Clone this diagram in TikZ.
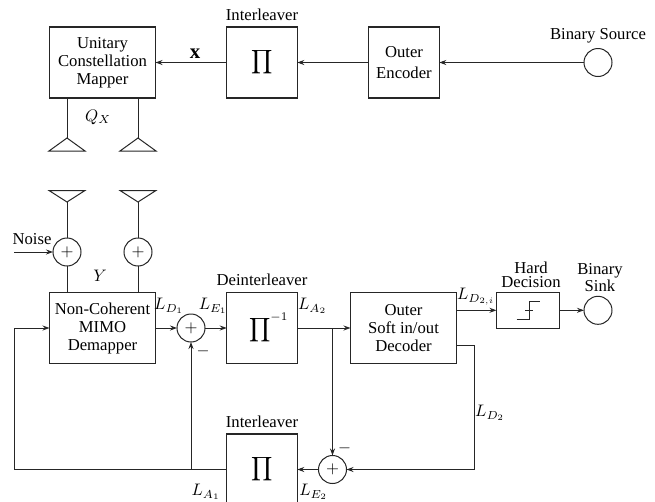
\documentclass[tikz,border=0pt]{standalone}
\usepackage{fontspec}
\setmainfont{Liberation Serif}
\usetikzlibrary{arrows.meta,calc}
\tikzset{
  x=0.6pt,y=-0.6pt,
  every node/.style={font=\fontsize{10}{10.8}\selectfont,inner sep=0pt,outer sep=0pt},
  wire/.style={line width=0.6pt,draw=black!85},
  arr/.style={wire,-{Stealth[length=4.2pt,width=3pt]}},
  blockbox/.style={draw=black!85,line width=0.65pt,align=center,anchor=center},
  wide/.style={blockbox,minimum width=63.6pt,minimum height=42.6pt,execute at begin node={\vspace*{1.6pt}}},
  square/.style={blockbox,minimum width=42.3pt,minimum height=42.6pt},
  sumnode/.style={circle,draw=black!85,line width=0.6pt,minimum size=16.8pt},
  antenna/.style={line width=0.6pt,draw=black!85},
  lbl/.style={anchor=center}
}
\begin{document}
\begin{tikzpicture}
\useasboundingbox (0,0) rectangle (655,502);
\clip (0,0) rectangle (655,502);
% upper chain
\node[wide] (mapper) at (102.5,62.5) {Unitary\\Constellation\\Mapper};
\node[square] (int1) at (262,62.5) {$\displaystyle\prod$};
\node[square] (enc) at (404,62.5) {Outer\\[2pt]Encoder};
\node[sumnode] (src) at (598,62.5) {};
\node[lbl] (lint1) at (262,15) {Interleaver};
\node[lbl] (lsrc) at (598,36) {Binary Source};
\node[lbl,font=\fontsize{12.5}{13}\selectfont] (lx) at (195,54) {$\mathbf{x}$};
\node[lbl] (lq) at (98,117) {$Q_X$};
\draw[arr] (src) -- (enc);
\draw[arr] (enc) -- (int1);
\draw[arr] (int1) -- (mapper);
% transmit antennas
\coordinate (ta) at (67,138);
\coordinate (tb) at (138,138);
\draw[wire] (mapper.south -| ta) -- (ta);
\draw[wire] (mapper.south -| tb) -- (tb);
\draw[antenna] (ta) -- ++(-18,13) -- ++(36,0) -- cycle;
\draw[antenna] (tb) -- ++(-18,13) -- ++(36,0) -- cycle;
% lower chain
\node[wide] (demap) at (102.5,328) {Non-Coherent\\MIMO\\Demapper};
\node[sumnode] (s1) at (67,252) {$+$};
\node[sumnode] (s2) at (138,252) {$+$};
\coordinate (ra) at (67,202);
\coordinate (rb) at (138,202);
\coordinate (noise) at (14,252);
\draw[antenna] (ra) -- ++(-18,-11.5) -- ++(36,0) -- cycle;
\draw[antenna] (rb) -- ++(-18,-11.5) -- ++(36,0) -- cycle;
\draw[wire] (ra) -- (s1);
\draw[wire] (rb) -- (s2);
\draw[wire] (s1) -- (demap.north -| s1);
\draw[wire] (s2) -- (demap.north -| s2);
\draw[arr] (noise) -- (s1);
\node[lbl] (lnoise) at (32,239.5) {Noise};
\node[lbl] (ly) at (100,276) {$Y$};
\node[sumnode] (s3) at (191,328) {$+$};
\node[square] (deint) at (262,328) {\kern8pt$\displaystyle\prod\nolimits^{-1}$};
\node[lbl] (ldeint) at (262,280) {Deinterleaver};
\node[wide] (dec) at (403.5,328) {Outer\\Soft in/out\\Decoder};
\node[blockbox,minimum width=38.1pt,minimum height=21.3pt] (hard) at (528.2,310.3) {};
\node[lbl,align=center,font=\fontsize{10}{8.2}\selectfont] (lhard) at (531,274.5) {Hard\\Decision};
\node[sumnode] (sink) at (598,310.3) {};
\node[lbl,align=center,font=\fontsize{10}{9}\selectfont] (lsink) at (600,277.5) {Binary\\Sink};
\draw[arr] (demap) -- (s3);
\draw[arr] (s3) -- (deint);
\draw[arr] (deint) -- (dec);
\draw[arr] (dec.east |- hard) -- (hard);
\draw[arr] (hard) -- (sink);
% threshold symbol
\coordinate (st) at (529,310.3);
\draw[wire] ($(st)+(-12.5,9)$) -- ($(st)+(0,9)$) -- ($(st)+(0,-9)$) -- ($(st)+(11,-9)$);
\draw[wire] ($(st)+(-4,0)$) -- ($(st)+(4,0)$);
% feedback
\node[square] (int2) at (262,469.5) {$\displaystyle\prod$};
\node[lbl] (lint2) at (262,422) {Interleaver};
\node[sumnode] (s4) at (332.5,469.5) {$+$};
\coordinate (decout) at (457,345.7);
\coordinate (fbr) at (474.3,345.7);
\coordinate (fbl) at (14.5,469.5);
\coordinate (tapa) at (332.5,328);
\coordinate (tapb) at (191,469.5);
\draw[wire] (decout) -- (fbr) -- (fbr |- s4);
\draw[arr] (fbr |- s4) -- (s4);
\draw[arr] (s4) -- (int2);
\draw[wire] (int2) -- (fbl);
\draw[wire] (fbl) -- (fbl |- demap);
\draw[arr] (fbl |- demap) -- (demap);
\draw[arr] (tapb) -- (s3);
\draw[arr] (tapa) -- (s4);
% labels
\node[lbl] (ld1) at (169,306) {$L_{D_1}$};
\node[lbl] (le1) at (213,306) {$L_{E_1}$};
\node[lbl] (la2) at (312.5,306) {$L_{A_2}$};
\node[lbl] (ld2i) at (476,297) {$L_{D_{2,i}}$};
\node[lbl] (ld2) at (490,413) {$L_{D_2}$};
\node[lbl] (la1) at (206,492) {$L_{A_1}$};
\node[lbl] (le2) at (313.5,492) {$L_{E_2}$};
\node[lbl] (m1) at (203,351) {$-$};
\node[lbl] (m2) at (344.7,448) {$-$};
\end{tikzpicture}
\end{document}
